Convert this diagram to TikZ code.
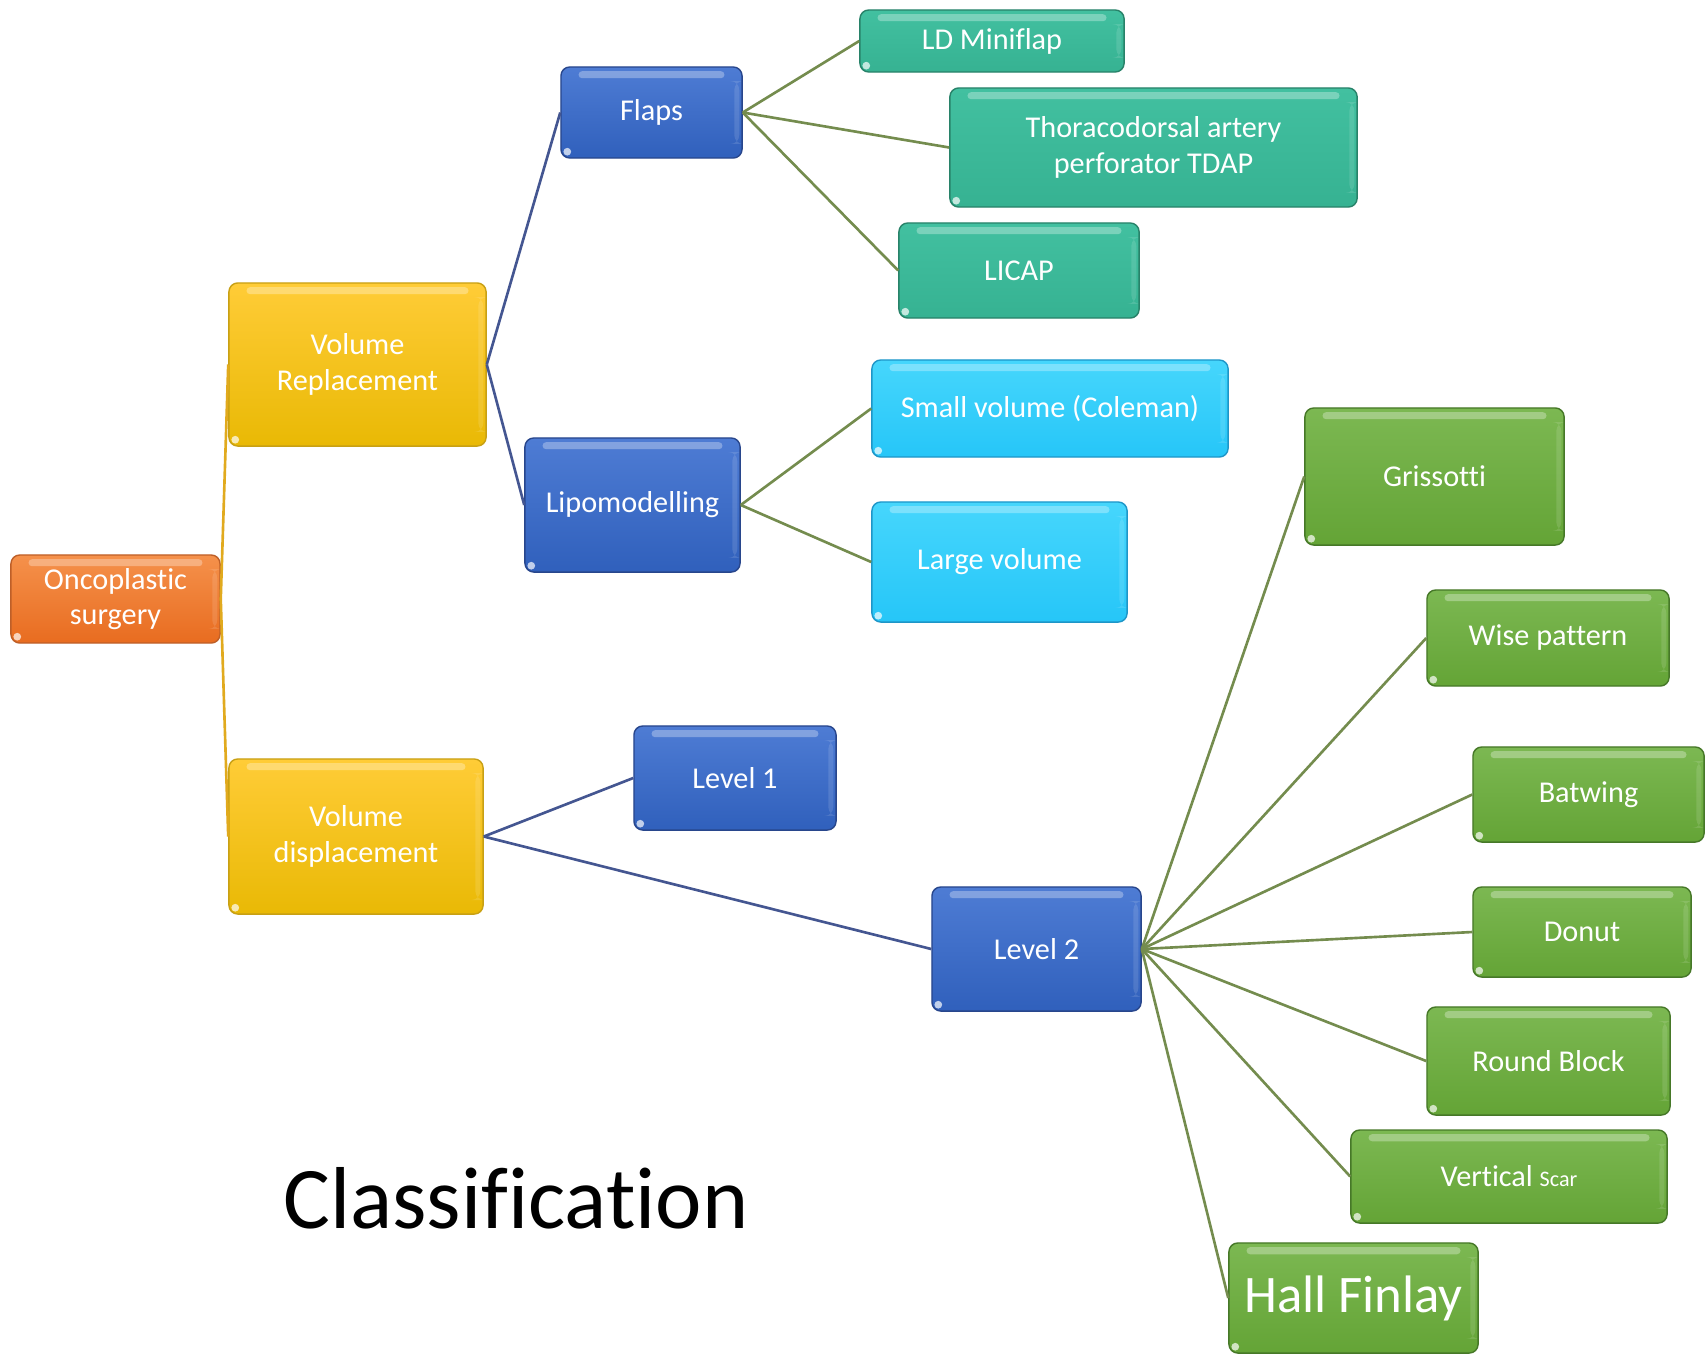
\documentclass[tikz,border=0pt]{standalone}
\usepackage{fontspec}
\setmainfont[Ligatures=NoCommon]{Carlito}
\definecolor{orT}{RGB}{245,145,75}
\definecolor{orB}{RGB}{232,108,32}
\definecolor{orD}{RGB}{190,95,40}
\definecolor{yeT}{RGB}{255,204,55}
\definecolor{yeB}{RGB}{233,185,5}
\definecolor{yeD}{RGB}{200,160,20}
\definecolor{blT}{RGB}{78,124,212}
\definecolor{blB}{RGB}{48,96,188}
\definecolor{blD}{RGB}{40,70,140}
\definecolor{teT}{RGB}{66,192,160}
\definecolor{teB}{RGB}{54,178,146}
\definecolor{teD}{RGB}{40,130,105}
\definecolor{cyT}{RGB}{70,214,252}
\definecolor{cyB}{RGB}{38,198,248}
\definecolor{cyD}{RGB}{30,150,200}
\definecolor{grT}{RGB}{124,184,82}
\definecolor{grB}{RGB}{100,164,54}
\definecolor{grD}{RGB}{70,120,40}
\definecolor{lnBlue}{RGB}{68,86,145}
\definecolor{lnGreen}{RGB}{116,140,78}
\definecolor{lnYel}{RGB}{225,170,30}
\tikzset{
  box/.style={rounded corners=2.5pt, inner sep=0pt, align=center, text=white,
    font=\fontsize{8.6}{10}\selectfont, line width=0.4pt,
    path picture={
      \fill[white, opacity=0.3, rounded corners=1pt]
        ([xshift=5pt,yshift=-1.2pt]path picture bounding box.north west)
        rectangle ([xshift=-5pt,yshift=-3.2pt]path picture bounding box.north east);
      \fill[white, opacity=0.12]
        ([xshift=-2.2pt,yshift=-4pt]path picture bounding box.north east)
        rectangle ([xshift=-0.8pt,yshift=4pt]path picture bounding box.south east);
      \fill[white, opacity=0.7]
        ([xshift=1.8pt,yshift=1.8pt]path picture bounding box.south west) circle (1.1pt);
    }},
  orbox/.style={box, top color=orT, bottom color=orB, draw=orD},
  yebox/.style={box, top color=yeT, bottom color=yeB, draw=yeD},
  blbox/.style={box, top color=blT, bottom color=blB, draw=blD},
  tebox/.style={box, top color=teT, bottom color=teB, draw=teD},
  cybox/.style={box, top color=cyT, bottom color=cyB, draw=cyD},
  grbox/.style={box, top color=grT, bottom color=grB, draw=grD},
  lb/.style={draw=lnBlue, line width=0.75pt},
  lg/.style={draw=lnGreen, line width=0.75pt},
  ly/.style={draw=lnYel, line width=0.75pt},
}
\begin{document}
\begin{tikzpicture}[x=0.01cm,y=-0.01cm]
\useasboundingbox (0,0) rectangle (1707,1354);
% level 0/1
\node[orbox, minimum width=2.09cm, minimum height=0.88cm] (onco) at (115.5,599) {Oncoplastic\\surgery};
\node[yebox, minimum width=2.57cm, minimum height=1.63cm] (vr) at (357.5,364.5) {Volume\\Replacement};
\node[yebox, minimum width=2.54cm, minimum height=1.55cm] (vd) at (356,836.5) {Volume\\displacement};
% level 2
\node[blbox, minimum width=1.81cm, minimum height=0.91cm] (flaps) at (651.5,112.5) {Flaps};
\node[blbox, minimum width=2.15cm, minimum height=1.34cm] (lipo) at (632.5,505) {Lipomodelling};
\node[blbox, minimum width=2.02cm, minimum height=1.04cm] (l1) at (735,778) {Level 1};
\node[blbox, minimum width=2.09cm, minimum height=1.24cm] (l2) at (1036.5,949) {Level 2};
% flaps children
\node[tebox, minimum width=2.64cm, minimum height=0.62cm] (ld) at (992,41) {LD Miniflap};
\node[tebox, minimum width=4.07cm, minimum height=1.19cm] (tdap) at (1153.5,147.5) {Thoracodorsal artery\\perforator TDAP};
\node[tebox, minimum width=2.40cm, minimum height=0.95cm] (licap) at (1019,270.5) {LICAP};
% lipo children
\node[cybox, minimum width=3.56cm, minimum height=0.97cm] (small) at (1050,408.5) {Small volume (Coleman)};
\node[cybox, minimum width=2.55cm, minimum height=1.20cm] (large) at (999.5,562) {Large volume};
% level 2 children
\node[grbox, minimum width=2.59cm, minimum height=1.37cm] (gris) at (1434.5,476.5) {Grissotti};
\node[grbox, minimum width=2.42cm, minimum height=0.96cm] (wise) at (1548,638) {Wise pattern};
\node[grbox, minimum width=2.31cm, minimum height=0.95cm] (bat) at (1588.5,794.5) {Batwing};
\node[grbox, minimum width=2.18cm, minimum height=0.90cm] (donut) at (1582,932) {Donut};
\node[grbox, minimum width=2.43cm, minimum height=1.08cm] (round) at (1548.5,1061) {Round Block};
\node[grbox, minimum width=3.16cm, minimum height=0.93cm] (vert) at (1509,1176.5) {Vertical {\fontsize{6.3}{8}\selectfont Scar}};
\node[grbox, minimum width=2.49cm, minimum height=1.10cm, font=\fontsize{15}{18}\selectfont] (hall) at (1353.5,1298) {Hall Finlay};
% title
\node[font=\fontsize{25}{30}\selectfont, text=black, inner sep=0pt] (title) at (516,1198) {Classification};
% connectors
\draw[ly] (onco.east) -- (vr.west);
\draw[ly] (onco.east) -- (vd.west);
\draw[lb] (vr.east) -- (flaps.west);
\draw[lb] (vr.east) -- (lipo.west);
\draw[lb] (vd.east) -- (l1.west);
\draw[lb] (vd.east) -- (l2.west);
\draw[lg] (flaps.east) -- (ld.west);
\draw[lg] (flaps.east) -- (tdap.west);
\draw[lg] (flaps.east) -- (licap.west);
\draw[lg] (lipo.east) -- (small.west);
\draw[lg] (lipo.east) -- (large.west);
\foreach \c in {gris,wise,bat,donut,round,vert,hall}
  \draw[lg] (l2.east) -- (\c.west);
\end{tikzpicture}
\end{document}
